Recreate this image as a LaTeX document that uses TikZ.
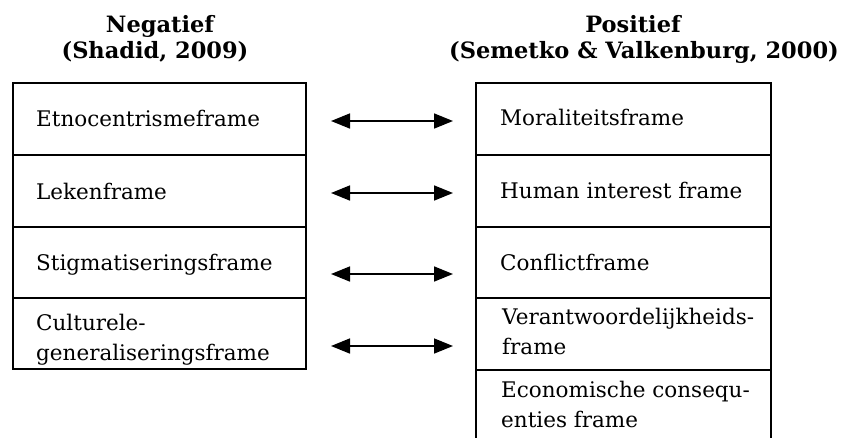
\documentclass[tikz,border=0pt]{standalone}
\usepackage{fontspec}
\setmainfont{DejaVu Serif}
\usetikzlibrary{arrows.meta}
\tikzset{
  cellbox/.style={draw=black, line width=1.6pt, minimum height=#1, inner sep=0pt},
  leftcell/.style={cellbox=#1, minimum width=293pt},
  rightcell/.style={cellbox=#1, minimum width=295pt},
  celltext/.style={anchor=base west, inner sep=0pt, align=left, font=\fontsize{21.5}{30}\selectfont},
  headtext/.style={anchor=base, inner sep=0pt, font=\fontsize{22.5}{26}\selectfont\bfseries},
  biarrow/.style={line width=1.6pt, {Triangle[length=19pt,width=15pt]}-{Triangle[length=19pt,width=15pt]}}
}
\begin{document}
\begin{tikzpicture}[x=1pt,y=-1pt]
\useasboundingbox (0,0) rectangle (845,437);
% headings
\node[headtext] (hneg1) at (160,32) {Negatief};
\node[headtext] (hneg2) at (155,58) {(Shadid, 2009)};
\node[headtext] (hpos1) at (633,32) {Positief};
\node[headtext] (hpos2) at (644,58) {(Semetko \& Valkenburg, 2000)};
% left column
\node[leftcell=72pt] (l1) at (159.5,119) {};
\node[leftcell=72pt] (l2) at (159.5,191) {};
\node[leftcell=71pt] (l3) at (159.5,262.5) {};
\node[leftcell=71pt] (l4) at (159.5,333.5) {};
\node[celltext] (tl1) at (36,126) {Etnocentrismeframe};
\node[celltext] (tl2) at (36,199) {Lekenframe};
\node[celltext] (tl3) at (36,270) {Stigmatiseringsframe};
\node[celltext] (tl4) at (36,360) {Culturele-\\generaliseringsframe};
% right column
\node[rightcell=72pt] (r1) at (623.5,119) {};
\node[rightcell=72pt] (r2) at (623.5,191) {};
\node[rightcell=71pt] (r3) at (623.5,262.5) {};
\node[rightcell=72pt] (r4) at (623.5,334) {};
\node[minimum width=295pt, minimum height=70pt, inner sep=0pt] (r5) at (623.5,405) {};
\draw[line width=1.6pt] (r5.south west) -- (r5.north west) -- (r5.north east) -- (r5.south east);
\node[celltext] (tr1) at (500,125) {Moraliteitsframe};
\node[celltext] (tr2) at (500,198) {Human interest frame};
\node[celltext] (tr3) at (500,270) {Conflictframe};
\node[celltext] (tr4) at (502,354) {Verantwoordelijkheids-\\frame};
\node[celltext] (tr5) at (501,427) {Economische consequ-\\enties frame};
% arrows
\coordinate (a1l) at (331,121); \coordinate (a1r) at (453,121);
\coordinate (a2l) at (331,193); \coordinate (a2r) at (453,193);
\coordinate (a3l) at (331,274); \coordinate (a3r) at (453,274);
\coordinate (a4l) at (331,346); \coordinate (a4r) at (453,346);
\draw[biarrow] (a1l) -- (a1r);
\draw[biarrow] (a2l) -- (a2r);
\draw[biarrow] (a3l) -- (a3r);
\draw[biarrow] (a4l) -- (a4r);
\end{tikzpicture}
\end{document}
